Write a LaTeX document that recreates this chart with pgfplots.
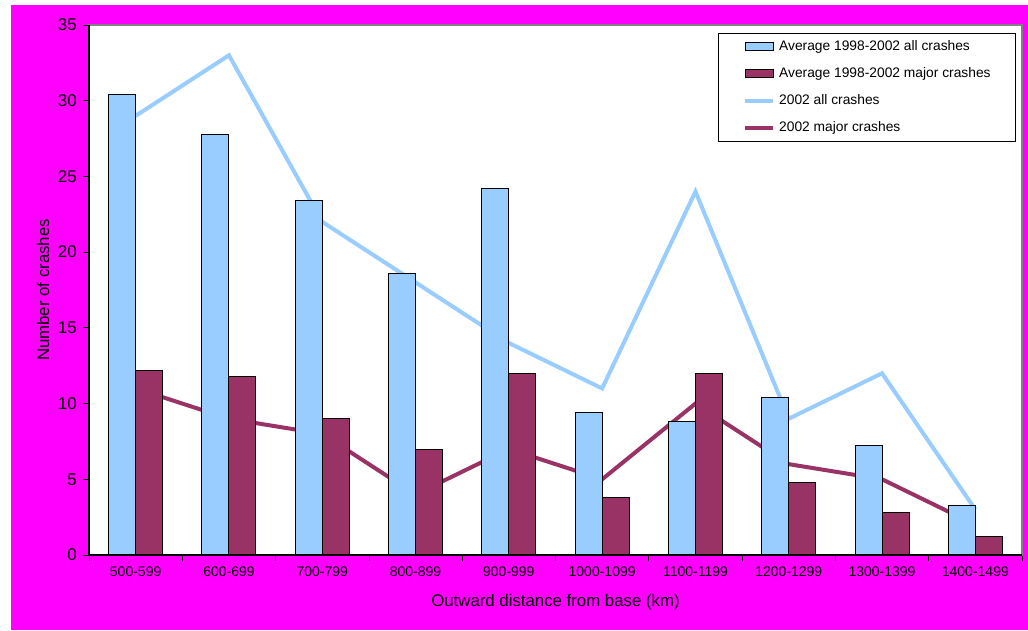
\documentclass[border=0pt]{standalone}
\usepackage{pgfplots}
\pgfplotsset{compat=1.18}
\usepackage{pgfplotstable}
\usepackage{fontspec}
\setmainfont{Liberation Sans}
\definecolor{barblue}{HTML}{99CCFF}
\definecolor{barmaroon}{HTML}{993366}
\definecolor{bgmag}{HTML}{FF00FF}
\definecolor{bordergray}{HTML}{808080}

\pgfplotsset{
  barleg/.style={legend image code/.code={\draw[##1, line width=1pt] (0pt,-4pt) rectangle (28pt,4pt);}},
  lineleg/.style={legend image code/.code={\draw[##1] (0pt,0pt) -- (28pt,0pt);}},
}

\pgfplotstableread{
x avgall avgmajor all2002 major2002
1 30.4 12.2 29 11
2 27.8 11.8 33 9
3 23.4 9.0 22 8
4 18.6 7.0 18 4
5 24.2 12.0 14 7
6 9.4 3.8 11 5
7 8.8 12.0 24 10
8 10.4 4.8 9 6
9 7.2 2.8 12 5
10 3.3 1.2 3 2
}\crashdata

\begin{document}
\begin{tikzpicture}
\path[use as bounding box] (0,0) rectangle (1028pt,630pt);
\fill[bgmag] (11pt,0) rectangle (1028pt,625pt);
\begin{axis}[
  at={(89pt,75pt)}, anchor=south west,
  scale only axis, width=933pt, height=530pt,
  xmin=0.5, xmax=10.5, ymin=0, ymax=35,
  axis background/.style={fill=white},
  axis line style={draw=bordergray, line width=1.5pt},
  xtick={0.5,1.5,...,10.5},
  x tick label as interval,
  xticklabels={500-599,600-699,700-799,800-899,900-999,1000-1099,1100-1199,1200-1299,1300-1399,1400-1499},
  ytick={0,5,...,35},
  xtick pos=lower, ytick pos=left,
  tick align=outside,
  major tick length=6pt,
  tick style={black, line width=0.8pt},
  /pgf/number format/assume math mode=true,
  xticklabel style={font=\fontsize{14}{16}\selectfont, inner sep=0pt, yshift=-6pt},
  yticklabel style={font=\fontsize{17}{19}\selectfont, inner sep=0pt, xshift=-6pt},
  xlabel={Outward distance from base (km)},
  ylabel={Number of crashes},
  xlabel style={font=\fontsize{16.8}{19}\selectfont, at={(axis description cs:0.5,-0.0887)}, anchor=center},
  ylabel style={font=\fontsize{16.8}{19}\selectfont, at={(axis description cs:-0.0493,0.5)}, anchor=center},
  legend style={at={(rel axis cs:0.9936,0.985)}, anchor=north east, draw=black, line width=0.8pt, fill=white,
    inner xsep=25pt, inner ysep=7pt, row sep=13.9pt,
    font=\fontsize{13.8}{16}\selectfont,
    nodes={inner sep=0pt, text height=10pt, text depth=3pt},
    /tikz/every odd column/.append style={column sep=4pt},
    cells={anchor=west}},
  after end axis/.code={\draw[black,line width=1.2pt] (rel axis cs:0,1) -- (rel axis cs:0,0) -- (rel axis cs:1,0);},
]
\addplot[forget plot, color=barblue, line width=4pt, sharp plot] table[x=x, y=all2002] {\crashdata};
\addplot[forget plot, color=barmaroon, line width=4pt, sharp plot] table[x=x, y=major2002] {\crashdata};

\addplot[ybar, bar width=27pt, bar shift=-13.5pt, fill=barblue, draw=black, line width=1pt, barleg]
  table[x=x, y=avgall] {\crashdata};
\addlegendentry{Average 1998-2002 all crashes}
\addplot[ybar, bar width=27pt, bar shift=13.5pt, fill=barmaroon, draw=black, line width=1pt, barleg]
  table[x=x, y=avgmajor] {\crashdata};
\addlegendentry{Average 1998-2002 major crashes}
\addlegendimage{color=barblue, line width=4pt, lineleg}
\addlegendentry{2002 all crashes}
\addlegendimage{color=barmaroon, line width=4pt, lineleg}
\addlegendentry{2002 major crashes}
\end{axis}
\end{tikzpicture}
\end{document}
